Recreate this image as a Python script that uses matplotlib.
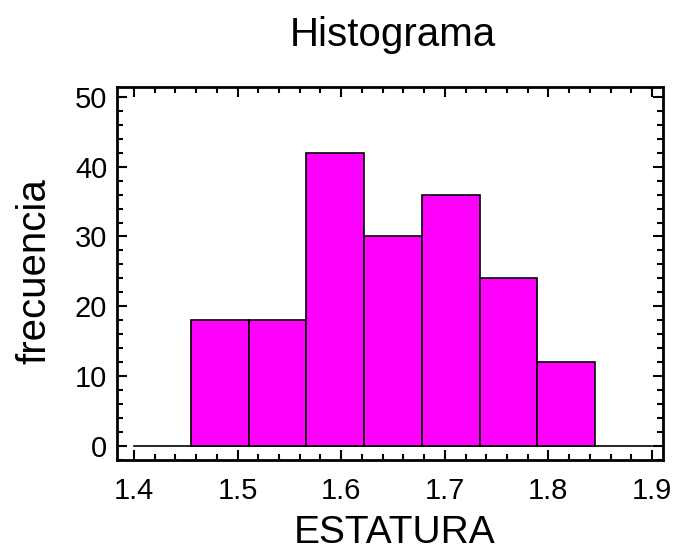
import numpy as np
import matplotlib.pyplot as plt
from matplotlib.ticker import MultipleLocator

plt.rcParams['font.family'] = ['Liberation Sans', 'DejaVu Sans']

# histogram of ESTATURA
bin_left = 1.455
bin_width = 0.0557
counts = [18, 18, 42, 30, 36, 24, 12]
x_ticks = [1.4, 1.5, 1.6, 1.7, 1.8, 1.9]
y_ticks = [0, 10, 20, 30, 40, 50]

edges = bin_left + bin_width * np.arange(len(counts))

fig = plt.figure(figsize=(6.77, 5.53), dpi=100)
ax = fig.add_axes([117/677, 1 - 460/553, (663-117)/677, (460-87)/553])

ax.plot([1.4, 1.9], [0, 0], color='black', lw=1.2, zorder=1)
ax.bar(edges, counts, width=bin_width, align='edge', color='#ff00ff',
       edgecolor='black', linewidth=1.2, zorder=2)

ax.set_xlim(1.3836, 1.9106)
ax.set_ylim(-2.0, 51.4)
ax.set_xticks(x_ticks)
ax.set_yticks(y_ticks)
ax.xaxis.set_minor_locator(MultipleLocator(0.02))
ax.yaxis.set_minor_locator(MultipleLocator(2))
ax.tick_params(which='both', direction='in', top=True, right=True, width=1.5)
ax.tick_params(which='major', length=7, labelsize=21)
ax.tick_params(which='minor', length=4)
ax.tick_params(axis='x', which='major', pad=12)
ax.tick_params(axis='y', which='major', pad=7)
for s in ax.spines.values():
    s.set_linewidth(2)

fig.text(395/677, 1 - 543/553, 'ESTATURA', ha='center', va='baseline', fontsize=28)
fig.text(34/677, 1 - 271/553, 'frecuencia', ha='center', va='center',
         rotation=90, fontsize=29)
fig.text(393/677, 1 - 35/553, 'Histograma', ha='center', va='center', fontsize=29)

fig.savefig('out.png', dpi=100)
